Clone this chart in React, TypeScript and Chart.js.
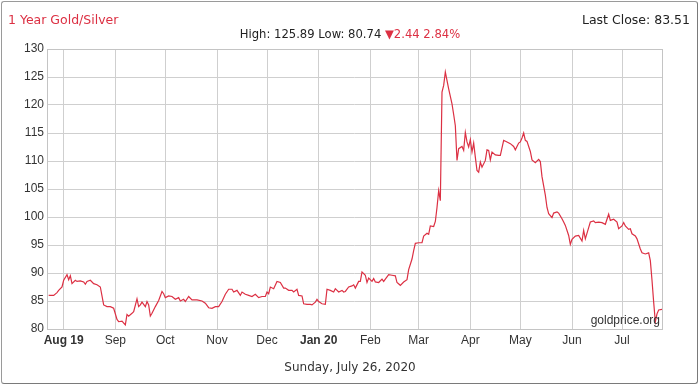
import React, { useEffect, useRef } from "react";
import { Chart, registerables } from "chart.js";

Chart.register(...registerables);

// ---- data ----
const dates: string[] = [
  "2019-07-23","2019-07-26","2019-07-28","2019-07-29","2019-07-31",
  "2019-08-01","2019-08-03","2019-08-04","2019-08-05","2019-08-06","2019-08-08","2019-08-09","2019-08-11","2019-08-13","2019-08-14","2019-08-15","2019-08-17","2019-08-19","2019-08-21","2019-08-23","2019-08-25","2019-08-27","2019-08-29","2019-08-31",
  "2019-09-02","2019-09-03","2019-09-05","2019-09-07","2019-09-08","2019-09-09","2019-09-11","2019-09-12","2019-09-14","2019-09-15","2019-09-16","2019-09-17","2019-09-19","2019-09-20","2019-09-21","2019-09-22","2019-09-23","2019-09-25","2019-09-27","2019-09-29","2019-09-30",
  "2019-10-01","2019-10-03","2019-10-05","2019-10-07","2019-10-09","2019-10-10","2019-10-12","2019-10-13","2019-10-15","2019-10-17","2019-10-20","2019-10-23","2019-10-25","2019-10-27","2019-10-29","2019-10-31",
  "2019-11-02","2019-11-04","2019-11-06","2019-11-08","2019-11-10","2019-11-11","2019-11-13","2019-11-15","2019-11-16","2019-11-18","2019-11-20","2019-11-22","2019-11-24","2019-11-26","2019-11-28","2019-11-30",
  "2019-12-01","2019-12-02","2019-12-03","2019-12-05","2019-12-07","2019-12-09","2019-12-11","2019-12-12","2019-12-14","2019-12-16","2019-12-17","2019-12-19","2019-12-20","2019-12-22","2019-12-23","2019-12-25","2019-12-27","2019-12-28","2019-12-30","2019-12-31",
  "2020-01-01","2020-01-03","2020-01-05","2020-01-06","2020-01-08","2020-01-10","2020-01-11","2020-01-13","2020-01-15","2020-01-16","2020-01-17","2020-01-19","2020-01-21","2020-01-22","2020-01-23","2020-01-25","2020-01-26","2020-01-27","2020-01-29","2020-01-30","2020-01-31",
  "2020-02-02","2020-02-03","2020-02-04","2020-02-06","2020-02-08","2020-02-09","2020-02-10","2020-02-12","2020-02-14","2020-02-16","2020-02-17","2020-02-19","2020-02-21","2020-02-23","2020-02-24","2020-02-26","2020-02-27","2020-02-28",
  "2020-03-01","2020-03-03","2020-03-04","2020-03-06","2020-03-07","2020-03-08","2020-03-10","2020-03-11","2020-03-12","2020-03-13","2020-03-14","2020-03-15","2020-03-16","2020-03-17","2020-03-19","2020-03-21","2020-03-22","2020-03-23","2020-03-24","2020-03-25","2020-03-27","2020-03-28","2020-03-29","2020-03-30","2020-03-31",
  "2020-04-01","2020-04-02","2020-04-03","2020-04-04","2020-04-05","2020-04-06","2020-04-07","2020-04-08","2020-04-10","2020-04-11","2020-04-12","2020-04-13","2020-04-14","2020-04-16","2020-04-18","2020-04-19","2020-04-21","2020-04-23","2020-04-25","2020-04-27","2020-04-28","2020-04-30",
  "2020-05-01","2020-05-02","2020-05-03","2020-05-04","2020-05-05","2020-05-07","2020-05-08","2020-05-10","2020-05-12","2020-05-13","2020-05-14","2020-05-16","2020-05-17","2020-05-18","2020-05-20","2020-05-21","2020-05-23","2020-05-24","2020-05-26","2020-05-27","2020-05-28","2020-05-30","2020-05-31",
  "2020-06-01","2020-06-03","2020-06-05","2020-06-07","2020-06-08","2020-06-09","2020-06-11","2020-06-12","2020-06-14","2020-06-15","2020-06-17","2020-06-19","2020-06-21","2020-06-23","2020-06-24","2020-06-26","2020-06-28","2020-06-29",
  "2020-07-01","2020-07-02","2020-07-03","2020-07-05","2020-07-06","2020-07-07","2020-07-09","2020-07-10","2020-07-12","2020-07-13","2020-07-15","2020-07-17","2020-07-18","2020-07-19","2020-07-20","2020-07-21","2020-07-22","2020-07-23","2020-07-25",
];

const ratio: number[] = [
  86.0, 86.0, 86.5, 86.9, 87.5,
  88.7, 89.7, 88.8, 89.5, 88.1, 88.7, 88.5, 88.6, 88.4, 88.0, 88.5, 88.7, 88.1, 87.9, 87.5, 84.3, 84.0, 84.0, 83.7,
  81.7, 81.3, 81.4, 80.74, 82.6, 82.3, 82.8, 83.1, 85.4, 84.0, 84.3, 84.8, 84.0, 84.9, 84.3, 82.3, 82.8, 84.0, 85.1, 86.7, 86.3,
  85.6, 85.9, 85.8, 85.3, 85.6, 85.0, 85.3, 84.9, 85.8, 85.2, 85.2, 85.0, 84.6, 83.8, 83.7, 84.0,
  84.0, 84.9, 86.2, 87.1, 87.1, 86.6, 86.9, 86.0, 86.6, 86.2, 86.0, 85.8, 86.2, 85.6, 85.8, 85.8,
  86.6, 86.3, 87.5, 87.2, 88.5, 88.3, 87.3, 87.3, 86.9, 86.9, 86.6, 87.1, 86.0, 85.9, 84.5, 84.4, 84.4, 84.3, 84.8, 85.3,
  84.9, 84.5, 84.4, 87.1, 86.9, 86.6, 87.2, 86.6, 86.9, 86.6, 86.7, 87.5, 87.7, 87.9, 87.3, 88.5, 88.5, 90.2, 89.6, 88.3, 89.1,
  88.5, 89.0, 88.4, 88.3, 88.9, 88.5, 88.9, 89.7, 89.6, 89.5, 88.3, 87.8, 88.4, 88.8, 90.6, 92.5, 94.0, 95.3,
  95.4, 95.4, 96.6, 97.1, 96.9, 98.4, 98.3, 99.2, 101.7, 104.7, 102.9, 122.3, 123.5, 125.89, 122.9, 120.2, 118.3, 116.3, 110.1, 112.2, 112.6, 111.9, 115.1, 113.4, 112.5,
  113.8, 111.6, 113.2, 110.7, 108.3, 108.0, 109.8, 108.9, 110.1, 112.0, 111.9, 110.2, 111.6, 111.1, 111.0, 111.0, 113.7, 113.4, 113.1, 112.6, 112.0, 113.2,
  113.4, 114.1, 115.0, 113.7, 113.5, 111.7, 110.2, 109.7, 110.3, 109.9, 107.2, 103.9, 101.7, 100.6, 99.9, 100.7, 100.9, 100.7, 99.7, 99.1, 98.5, 96.7, 95.1,
  96.0, 96.6, 96.7, 95.7, 97.6, 96.1, 98.1, 99.1, 99.3, 99.0, 99.1, 99.0, 98.7, 100.5, 99.4, 99.6, 99.1, 97.9,
  98.4, 99.0, 98.4, 97.8, 97.9, 97.0, 96.6, 96.1, 94.3, 93.6, 93.4, 93.6, 92.2, 88.7, 84.8, 81.3, 82.7, 83.4, 83.51,
];

const tickDates: string[] = [
  "2019-08-01","2019-09-01","2019-10-01","2019-11-01","2019-12-01","2020-01-01",
  "2020-02-01","2020-03-01","2020-04-01","2020-05-01","2020-06-01","2020-07-01",
];
const tickLabels: string[] = ["Aug 19","Sep","Oct","Nov","Dec","Jan 20","Feb","Mar","Apr","May","Jun","Jul"];
const boldTickLabels: string[] = ["Aug 19", "Jan 20"];
const yTickValues: number[] = [80, 85, 90, 95, 100, 105, 110, 115, 120, 125, 130];

const axisStart = "2019-07-22";
const axisEnd = "2020-07-25";

const titleText = "1 Year Gold/Silver";
const lastCloseText = "Last Close: 83.51";
const highLowText = "High: 125.89 Low: 80.74 ";
const changeText = "\u25BC2.44 2.84%";
const dateText = "Sunday, July 26, 2020";
const watermark = "goldprice.org";

// ---- helpers ----
const EPOCH = Date.UTC(2019, 7, 1);
function dayOf(s: string): number {
  const [y, m, d] = s.split("-").map(Number);
  return (Date.UTC(y, m - 1, d) - EPOCH) / 86400000;
}

const RED = "#dc3043";
const TEXT = "#333333";
const GRID = "#cfcfcf";
const UI_FONT = "'DejaVu Sans', Verdana, sans-serif";
const AXIS_FONT = "'Liberation Sans', Arial, sans-serif";

export default function App() {
  const canvasRef = useRef<HTMLCanvasElement | null>(null);

  useEffect(() => {
    const canvas = canvasRef.current;
    if (!canvas) return;
    const points = dates.map((d, i) => ({ x: dayOf(d), y: ratio[i] }));
    const tickDays = tickDates.map(dayOf);

    const borderPlugin = {
      id: "plotBorder",
      afterDraw(chart: any) {
        const { ctx, chartArea } = chart;
        ctx.save();
        ctx.strokeStyle = "#c4c4c4";
        ctx.lineWidth = 1;
        ctx.strokeRect(
          Math.round(chartArea.left) + 0.5,
          Math.round(chartArea.top) + 0.5,
          Math.round(chartArea.right - chartArea.left),
          Math.round(chartArea.bottom - chartArea.top)
        );
        ctx.restore();
      },
    };

    const chart = new Chart(canvas, {
      type: "line",
      data: {
        datasets: [
          {
            data: points,
            borderColor: RED,
            borderWidth: 1.2,
            pointRadius: 0,
            tension: 0,
            fill: false,
          },
        ],
      },
      options: {
        animation: false,
        responsive: false,
        maintainAspectRatio: false,
        layout: { padding: { left: 0, right: 38, top: 49, bottom: 0 } },
        plugins: {
          legend: { display: false },
          tooltip: { enabled: false },
          title: { display: false },
        },
        scales: {
          x: {
            type: "linear",
            min: dayOf(axisStart),
            max: dayOf(axisEnd),
            afterBuildTicks: (s: any) => {
              s.ticks = tickDays.map((v) => ({ value: v }));
            },
            afterFit: (s: any) => {
              s.height = 57;
            },
            ticks: {
              autoSkip: false,
              maxRotation: 0,
              padding: 4,
              color: TEXT,
              callback: (_v: any, i: number) => tickLabels[i],
              font: (ctx: any) => ({
                family: AXIS_FONT,
                size: 12,
                weight: boldTickLabels.includes(tickLabels[ctx.index]) ? "bold" : "normal",
              }),
            },
            grid: { color: GRID, lineWidth: 1, drawTicks: false },
            border: { display: false },
          },
          y: {
            min: 80,
            max: 130,
            afterBuildTicks: (s: any) => {
              s.ticks = yTickValues.map((v) => ({ value: v }));
            },
            afterFit: (s: any) => {
              s.width = 47;
            },
            ticks: {
              padding: 3,
              color: TEXT,
              font: { family: AXIS_FONT, size: 12 },
            },
            grid: { color: GRID, lineWidth: 1, drawTicks: false },
            border: { display: false },
          },
        },
      },
      plugins: [borderPlugin],
    } as any);

    return () => chart.destroy();
  }, []);

  return (
    <div
      style={{
        position: "absolute",
        left: 0,
        top: 0,
        width: 700,
        height: 386,
        background: "#ffffff",
        overflow: "hidden",
      }}
    >
      <div
        style={{
          position: "absolute",
          left: 1,
          top: 1,
          width: 695,
          height: 381,
          border: "1px solid #9a9a9a",
          borderRightColor: "#7a7a7a",
          borderBottomColor: "#7a7a7a",
          borderRadius: 3,
        }}
      />
      <canvas
        ref={canvasRef}
        width={700}
        height={386}
        style={{ position: "absolute", left: 0, top: 0, width: 700, height: 386 }}
      />
      <div
        style={{
          position: "absolute",
          left: 8,
          top: 12,
          font: `12.5px ${UI_FONT}`,
          lineHeight: "15px",
          color: RED,
          whiteSpace: "nowrap",
        }}
      >
        {titleText}
      </div>
      <div
        style={{
          position: "absolute",
          right: 10,
          top: 12,
          font: `12.5px ${UI_FONT}`,
          lineHeight: "15px",
          color: "#222",
          whiteSpace: "nowrap",
        }}
      >
        {lastCloseText}
      </div>
      <div
        style={{
          position: "absolute",
          left: 0,
          width: 700,
          top: 27,
          textAlign: "center",
          font: `11.6px ${UI_FONT}`,
          lineHeight: "15px",
          color: "#222",
          whiteSpace: "nowrap",
        }}
      >
        {highLowText}
        <span style={{ color: RED }}>{changeText}</span>
      </div>
      <div
        style={{
          position: "absolute",
          left: 0,
          width: 700,
          top: 360,
          textAlign: "center",
          font: `12px ${UI_FONT}`,
          lineHeight: "15px",
          color: TEXT,
          whiteSpace: "nowrap",
        }}
      >
        {dateText}
      </div>
      <div
        style={{
          position: "absolute",
          right: 40,
          top: 313,
          font: `12px ${AXIS_FONT}`,
          color: "#333",
          whiteSpace: "nowrap",
        }}
      >
        {watermark}
      </div>
    </div>
  );
}
